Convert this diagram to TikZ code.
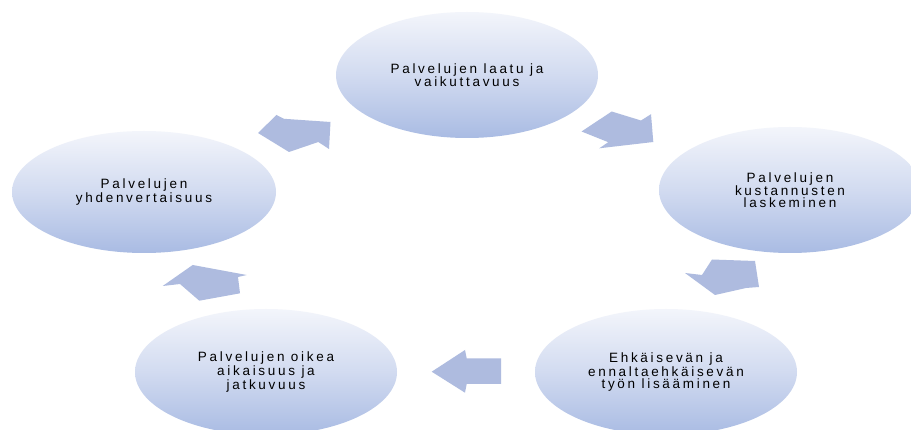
\documentclass[tikz,border=0pt]{standalone}
\usepackage{fontspec}
\setmainfont{Liberation Sans}
\newfontfamily\spaced[LetterSpace=20]{Liberation Sans}
\usetikzlibrary{shapes.geometric}
\definecolor{elltop}{HTML}{F3F5FB}
\definecolor{ellbot}{HTML}{A9BBE3}
\definecolor{arrowfill}{HTML}{AEBBDF}
\tikzset{
  bubble/.style={ellipse, minimum width=262pt, minimum height=126pt, inner sep=0pt,
    top color=elltop, bottom color=ellbot, middle color=elltop!55!ellbot,
    align=center, font=\spaced\fontsize{13.5}{11.8}\selectfont, text=black},
  blockarrow/.style={fill=arrowfill, draw=none}
}
\begin{document}
\begin{tikzpicture}[x=1pt,y=-1pt]
\clip (0,0) rectangle (911,430);
\fill[white] (0,0) rectangle (911,430);
\node[bubble] (top) at (467,75) {Palvelujen laatu ja\\vaikuttavuus};
\node[bubble] (right) at (790,190) {Palvelujen\\kustannusten\\laskeminen};
\node[bubble] (br) at (666,372) {Ehkäisevän ja\\ennaltaehkäisevän\\työn lisääminen};
\node[bubble] (bl) at (266,372) {Palvelujen oikea\\aikaisuus ja\\jatkuvuus};
\node[bubble, minimum width=264pt, minimum height=122pt] (left) at (144,192) {Palvelujen\\yhdenvertaisuus};
% arrows
\fill[blockarrow] (258,133) -- (276.5,115) -- (284,118.8) -- (330.5,122) -- (329,149) -- (318.3,142) -- (289,152) -- cycle;
\fill[blockarrow] (581.5,131.5) -- (611.7,111.5) -- (641,120.5) -- (651,114.2) -- (653.3,142) -- (599.2,148.3) -- (608.3,142.2) -- cycle;
\fill[blockarrow] (685,273) -- (702,275) -- (712,259.5) -- (755,261) -- (759,287) -- (746,288) -- (715,295) -- cycle;
\fill[blockarrow] (431.7,371.7) -- (465,350) -- (466.7,358.3) -- (501,358.3) -- (501,384) -- (466.7,384) -- (465,392.7) -- cycle;
\fill[blockarrow] (162.7,286) -- (192.7,265) -- (246.7,275) -- (238,277) -- (240,293.3) -- (199.3,300.7) -- (180,284) -- cycle;
\end{tikzpicture}
\end{document}
